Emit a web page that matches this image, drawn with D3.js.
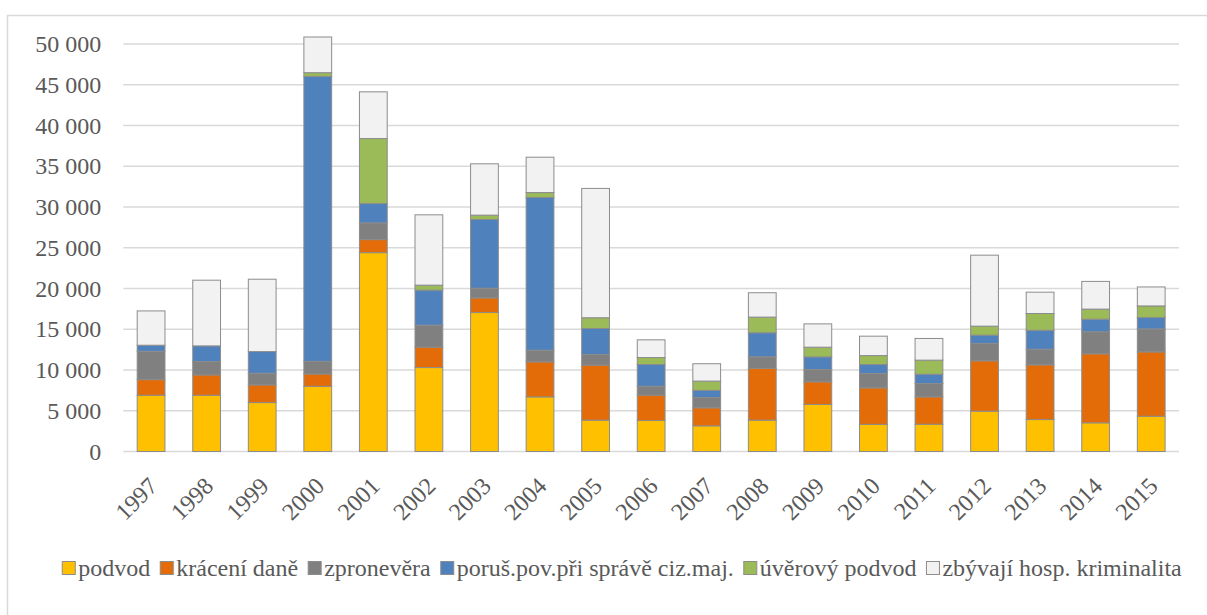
<!DOCTYPE html>
<html><head><meta charset="utf-8">
<script src="https://cdn.jsdelivr.net/npm/d3@7"></script>
</head>
<body style="margin:0">
<svg id="s" width="1207" height="615" font-family="Liberation Serif"></svg>
<script>
// ---- data ----
const years = ["1997","1998","1999","2000","2001","2002","2003","2004","2005","2006","2007","2008","2009","2010","2011","2012","2013","2014","2015"];
const seriesNames = ["podvod","krácení daně","zpronevěra","poruš.pov.při správě ciz.maj.","úvěrový podvod","zbývají hosp. kriminalita"];
const podvod      = [6900, 6900, 6000, 8000, 24400, 10300, 17050, 6700, 3850, 3800, 3150, 3850, 5770, 3330, 3350, 4950, 3920, 3520, 4330];
const kraceniDane = [1920, 2500, 2170, 1510, 1600, 2500, 1800, 4300, 6750, 3110, 2210, 6340, 2780, 4480, 3350, 6180, 6710, 8470, 7890];
const zpronevera  = [3480, 1640, 1430, 1550, 2050, 2700, 1190, 1430, 1310, 1100, 1270, 1430, 1510, 1760, 1640, 2130, 1920, 2700, 2820];
const porusPov    = [740, 1920, 2660, 34970, 2370, 4300, 8430, 18730, 3190, 2660, 860, 2950, 1550, 1100, 1150, 1020, 2330, 1550, 1390];
const uverovy     = [0, 0, 0, 450, 7980, 610, 530, 610, 1310, 860, 1150, 1920, 1190, 1100, 1720, 1100, 2050, 1230, 1430];
const zbyvaji     = [4210, 8060, 8880, 4380, 5730, 8630, 6300, 4340, 15870, 2170, 2130, 2990, 2860, 2380, 2660, 8710, 2620, 3400, 2330];
const yTicks = [0, 5000, 10000, 15000, 20000, 25000, 30000, 35000, 40000, 45000, 50000];

const seriesValues = [podvod, kraceniDane, zpronevera, porusPov, uverovy, zbyvaji];
const colors = ["#FFC000", "#E36C09", "#808080", "#4F81BD", "#9BBB59", "#F2F2F2"];
const FONT = "Liberation Serif";

const table = years.map((yr, i) => {
  const row = { year: yr };
  seriesNames.forEach((s, k) => row[s] = seriesValues[k][i]);
  return row;
});
const stacked = d3.stack().keys(seriesNames)(table);

const svg = d3.select("#s");
const L = 123.3, R = 1179, T = 44, B = 451.5;

svg.append("rect")
  .attr("x", 7.5).attr("y", 15.5).attr("width", 1260).attr("height", 700)
  .attr("fill", "none").attr("stroke", "#d9d9d9").attr("stroke-width", 1.5);

const x = d3.scaleBand().domain(years).range([L, R]).paddingInner(0.5).paddingOuter(0.25);
const y = d3.scaleLinear().domain([0, 50000]).range([B, T]);
const loc = d3.formatLocale({ decimal: ",", thousands: " ", grouping: [3], currency: ["", ""] });
const fmt = loc.format(",d");

// gridlines
svg.append("g").selectAll("line").data(yTicks).join("line")
  .attr("x1", L).attr("x2", R)
  .attr("y1", d => y(d)).attr("y2", d => y(d))
  .attr("stroke", "#d9d9d9").attr("stroke-width", 1.5);

// y labels
svg.append("g").selectAll("text").data(yTicks).join("text")
  .attr("x", L - 22).attr("y", d => y(d)).attr("dy", "0.34em")
  .attr("text-anchor", "end")
  .attr("font-family", FONT).attr("font-size", 24).attr("fill", "#595959")
  .text(d => fmt(d));

// bars
const layers = svg.append("g").selectAll("g").data(stacked).join("g")
  .attr("fill", (d, i) => colors[i]);
layers.selectAll("rect").data(d => d).join("rect")
  .attr("x", d => x(d.data.year))
  .attr("width", x.bandwidth())
  .attr("y", d => y(d[1]))
  .attr("height", d => Math.max(0, y(d[0]) - y(d[1])))
  .attr("stroke", "#8c8c8c").attr("stroke-width", 1);

// x labels
svg.append("g").selectAll("text").data(years).join("text")
  .attr("text-anchor", "end")
  .attr("font-family", FONT).attr("font-size", 24).attr("fill", "#595959")
  .attr("transform", d => `translate(${x(d) + x.bandwidth() / 2 + 8},${B + 36}) rotate(-45)`)
  .text(d => d);

// legend
const leg = svg.append("g");
let cx = 0;
seriesNames.forEach((s, i) => {
  const g = leg.append("g");
  g.append("rect").attr("x", 0).attr("y", -6.5).attr("width", 13).attr("height", 13)
    .attr("fill", colors[i]).attr("stroke", "#8c8c8c").attr("stroke-width", 1);
  const t = g.append("text").attr("x", 16).attr("y", 8)
    .attr("font-family", FONT).attr("font-size", 24).attr("fill", "#595959").text(s);
  const w = 16 + t.node().getComputedTextLength();
  g.attr("transform", `translate(${cx},0)`);
  cx += w + 10;
});
const total = cx - 10;
leg.attr("transform", `translate(${622 - total / 2},568)`);
</script>
</body></html>
